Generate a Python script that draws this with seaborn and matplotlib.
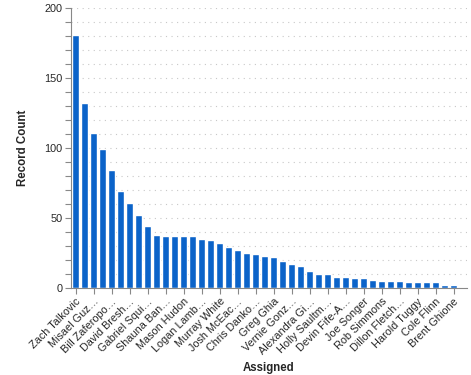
import matplotlib
matplotlib.use("Agg")
import matplotlib.pyplot as plt
import seaborn as sns
import pandas as pd
from matplotlib.ticker import MultipleLocator

# every other assignee is labelled on the axis; the rest are hidden by label overlap
shown_names = ["Zach Talkovic", "Misael Guz…", "Bill Zaferopo…", "David Bresh…",
               "Gabriel Squi…", "Shauna Ban…", "Mason Hudon", "Logan Lamb…",
               "Murray White", "Josh McEac…", "Chris Danko…", "Greg Ghia",
               "Vernie Gonz…", "Alexandra Gi…", "Holly Saultm…", "Devin Fife-A…",
               "Joe Songer", "Rob Simmons", "Dillon Fletch…", "Harold Tuggy",
               "Cole Flinn", "Brent Ghione"]
hidden_names = ["(hidden %d)" % i for i in range(1, 23)]
assigned = [n for pair in zip(shown_names, hidden_names) for n in pair]
record_count = [181, 132, 111, 99, 84, 69, 61, 52, 44, 38, 37,
                37, 37, 37, 35, 34, 32, 29, 27, 25, 24, 23,
                22, 19, 17, 16, 12, 10, 10, 8, 8, 7, 7, 6,
                5, 5, 5, 4, 4, 4, 4, 2, 2, 1]

df = pd.DataFrame({"Assigned": assigned, "Record Count": record_count})

sns.set_style("white")
plt.rcParams["font.family"] = ["Liberation Sans", "DejaVu Sans"]

fig = plt.figure(figsize=(4.71, 3.75), dpi=100)
ax = fig.add_axes([71 / 471, 1 - 288 / 375, 396 / 471, 280 / 375])

sns.barplot(data=df, x="Assigned", y="Record Count", color="#0b63c9",
            saturation=1, width=0.67, ax=ax)

ax.set_xlim(-0.5, len(assigned) - 0.5)
ax.set_ylim(0, 200)
ax.yaxis.set_major_locator(MultipleLocator(50))
ax.yaxis.set_minor_locator(MultipleLocator(10))
ax.grid(axis="y", which="both", color="#c8c8c8", linestyle=(0, (1, 4)), linewidth=0.8)
ax.set_axisbelow(True)

ax.set_xticks(range(0, len(assigned), 2))
ax.set_xticklabels(shown_names, rotation=45, ha="right", rotation_mode="anchor",
                   fontsize=7.8)
ax.tick_params(axis="x", bottom=True, length=4, width=0.8, color="#888888", pad=2)
ax.tick_params(axis="y", which="both", left=True, length=4, width=0.8, color="#888888",
               labelsize=7.8, pad=2)

for s in ["top", "right"]:
    ax.spines[s].set_visible(False)
for s in ["left", "bottom"]:
    ax.spines[s].set_color("#888888")
    ax.spines[s].set_linewidth(0.8)

ax.set_xlabel("Assigned", fontsize=8.3, fontweight="bold", labelpad=4)
ax.set_ylabel("Record Count", fontsize=8.3, fontweight="bold", labelpad=11)

fig.savefig("out.png", dpi=100)
